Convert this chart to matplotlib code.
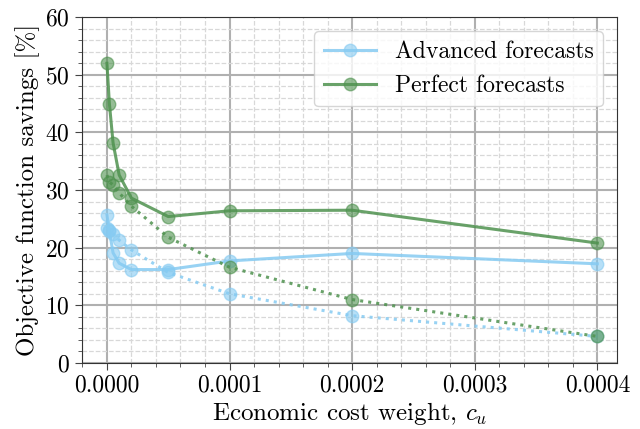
import matplotlib
matplotlib.use("Agg")
import matplotlib.pyplot as plt
from matplotlib.colors import to_rgba
from matplotlib.ticker import MultipleLocator, FormatStrFormatter

plt.rcParams['font.family'] = 'serif'
plt.rcParams['font.serif'] = ['cmr10']
plt.rcParams['mathtext.fontset'] = 'cm'
plt.rcParams['axes.formatter.use_mathtext'] = True

cost_weight = [0, 0.000002, 0.000005, 0.00001, 0.00002, 0.00005, 0.0001, 0.0002, 0.0004]

adv_solid = [25.7, 22.9, 19.1, 17.3, 16.2, 16.2, 17.7, 19.0, 17.2]
adv_dotted = [23.5, 23.1, 22.4, 21.3, 19.6, 15.7, 12.0, 8.2, 4.6]
perf_solid = [52.0, 45.0, 38.2, 32.6, 28.6, 25.4, 26.4, 26.5, 20.8]
perf_dotted = [32.6, 31.4, 30.9, 29.5, 27.2, 21.8, 16.6, 11.0, 4.6]

blue = '#86cbf2'
green = '#4f924f'


def draw(ax, y, col, ls, label=None):
    ax.plot(cost_weight, y, ls, color=to_rgba(col, 0.85), lw=2.2, marker='o', ms=9,
            markerfacecolor=to_rgba(col, 0.6), markeredgecolor=to_rgba(col, 0.6),
            label=label, zorder=3)


fig = plt.figure(figsize=(6.4, 4.29), dpi=100)
ax = fig.add_axes([0.128, 0.154, 0.836, 0.806])

draw(ax, adv_solid, blue, '-', 'Advanced forecasts')
draw(ax, adv_dotted, blue, ':')
draw(ax, perf_solid, green, '-', 'Perfect forecasts')
draw(ax, perf_dotted, green, ':')

ax.set_xlim(-0.0000204, 0.000416)
ax.set_ylim(0, 60)
ax.xaxis.set_major_locator(MultipleLocator(0.0001))
ax.xaxis.set_minor_locator(MultipleLocator(0.00002))
ax.yaxis.set_major_locator(MultipleLocator(10))
ax.yaxis.set_minor_locator(MultipleLocator(2))
ax.xaxis.set_major_formatter(FormatStrFormatter('%.4f'))

ax.grid(which='major', color='#b0b0b0', lw=1.5, ls='-')
ax.grid(which='minor', color='#d8d8d8', lw=0.9, ls='--')
ax.set_axisbelow(True)
ax.tick_params(which='both', labelsize=17, color='#444444')
ax.tick_params(which='major', length=5)
ax.tick_params(which='minor', length=3)
for s in ax.spines.values():
    s.set_color('#333333')

ax.set_xlabel('Economic cost weight, $c_u$', fontsize=18, labelpad=2)
ax.set_ylabel('Objective function savings [%]', fontsize=18, labelpad=4)

ax.legend(loc='upper right', fontsize=17, framealpha=0.8, edgecolor='#cccccc',
          handlelength=2.2, borderaxespad=0.6)

fig.savefig('out.png', dpi=100)
